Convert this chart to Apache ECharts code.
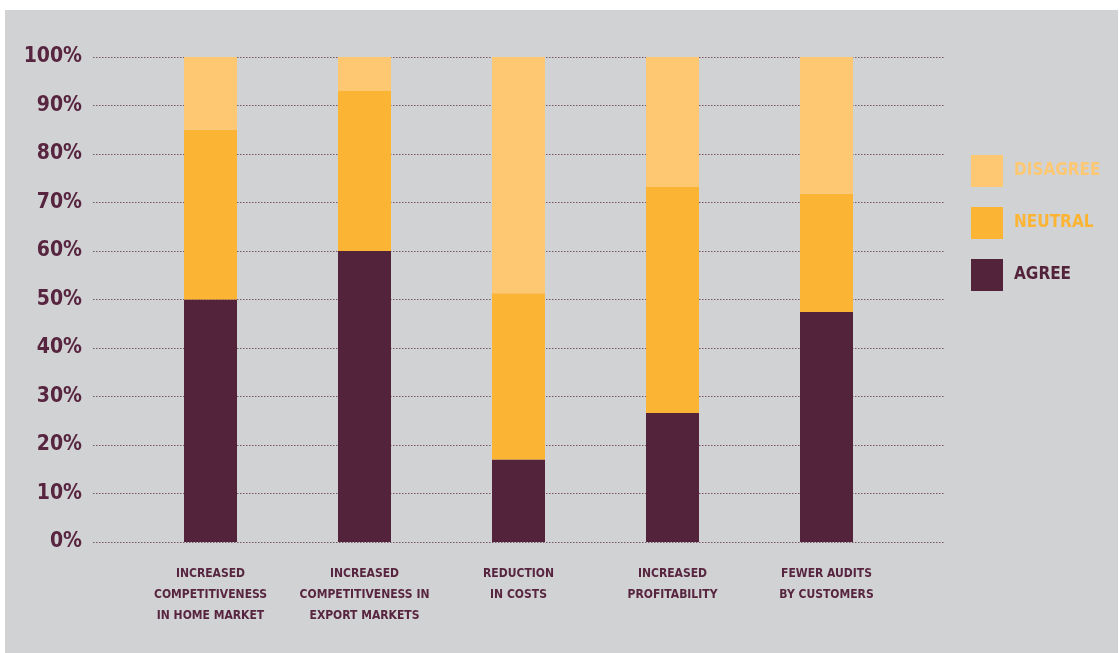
<!DOCTYPE html>
<html>
<head>
<meta charset="utf-8">
<script src="https://cdn.jsdelivr.net/npm/echarts@6/dist/echarts.min.js"></script>
<style>
  html, body { margin: 0; padding: 0; background: #ffffff; }
  #chart { position: absolute; left: 5px; top: 10px; width: 1113px; height: 643px; background: #D1D2D4; }
</style>
</head>
<body>
<div id="chart"></div>
<script>
// data
var categories = [
  'INCREASED\nCOMPETITIVENESS\nIN HOME MARKET',
  'INCREASED\nCOMPETITIVENESS IN\nEXPORT MARKETS',
  'REDUCTION\nIN COSTS',
  'INCREASED\nPROFITABILITY',
  'FEWER AUDITS\nBY CUSTOMERS'
];
var agree    = [50, 60, 17, 26.6, 47.4];
var neutral  = [35, 33, 34.3, 46.6, 24.4];
var disagree = [15, 7, 48.7, 26.8, 28.2];
var yTicks = [0, 10, 20, 30, 40, 50, 60, 70, 80, 90, 100];

var txt = '#57253F';
var font = '"DejaVu Sans Condensed", "Liberation Sans", sans-serif';

var chart = echarts.init(document.getElementById('chart'));
chart.setOption({
    animation: false,
    textStyle: { fontFamily: font },
    grid: [
        { left: 88, right: 173, top: 47, bottom: 111 },   // gridlines
        { left: 128.5, right: 214.5, top: 47, bottom: 111 } // bars
    ],
    legend: {
        orient: 'vertical',
        left: 966,
        top: 145,
        padding: 0,
        itemWidth: 32,
        itemHeight: 32,
        itemGap: 20,
        icon: 'rect',
        data: [
            { name: 'DISAGREE', textStyle: { color: '#FEC873' } },
            { name: 'NEUTRAL', textStyle: { color: '#FBB434' } },
            { name: 'AGREE', textStyle: { color: '#52233A' } }
        ],
        textStyle: { fontSize: 17, fontWeight: 'bold', fontFamily: font, padding: [0, 0, 0, 6] }
    },
    xAxis: [
        { type: 'value', gridIndex: 0, show: false, min: 0, max: 1 },
        {
            type: 'category', gridIndex: 1, data: categories,
            axisLine: { show: false }, axisTick: { show: false },
            axisLabel: {
                interval: 0, margin: 21, color: txt, fontSize: 12, fontWeight: 'bold',
                lineHeight: 21, fontFamily: font
            }
        }
    ],
    yAxis: [
        {
            type: 'value', gridIndex: 0, min: yTicks[0], max: yTicks[yTicks.length - 1], interval: 10,
            axisLine: { show: false }, axisTick: { show: false },
            axisLabel: {
                formatter: '{value}%', margin: 11, color: txt, fontSize: 21, fontWeight: 'bold', fontFamily: font
            },
            splitLine: { lineStyle: { color: '#7A5566', type: [1.5, 1.5], width: 1 } }
        },
        { type: 'value', gridIndex: 1, min: 0, max: 100, show: false, splitLine: { show: false } }
    ],
    series: [
        { name: 'AGREE', type: 'bar', stack: 'all', xAxisIndex: 1, yAxisIndex: 1, barWidth: 53,
          itemStyle: { color: '#52233A' }, data: agree },
        { name: 'NEUTRAL', type: 'bar', stack: 'all', xAxisIndex: 1, yAxisIndex: 1, barWidth: 53,
          itemStyle: { color: '#FBB434' }, data: neutral },
        { name: 'DISAGREE', type: 'bar', stack: 'all', xAxisIndex: 1, yAxisIndex: 1, barWidth: 53,
          itemStyle: { color: '#FEC873' }, data: disagree }
    ]
});
</script>
</body>
</html>
